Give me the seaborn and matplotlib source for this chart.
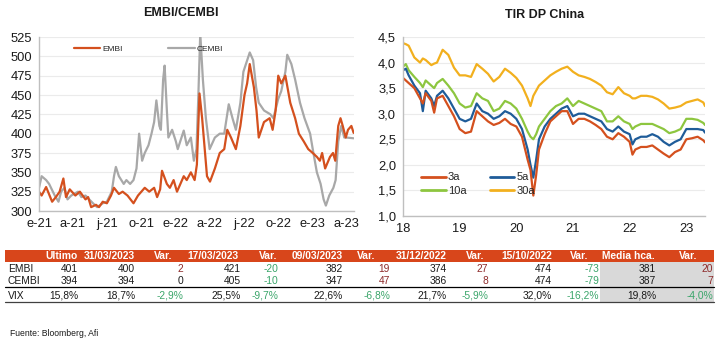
import numpy as np
import pandas as pd
import matplotlib
matplotlib.use("Agg")
import matplotlib.pyplot as plt
from matplotlib.patches import Rectangle
from matplotlib.lines import Line2D
import seaborn as sns

# ---------------- data: EMBI / CEMBI ----------------
embi_dates = ["2021-01-01","2021-01-08","2021-01-20","2021-02-05","2021-02-15","2021-02-25","2021-03-07","2021-03-14",
              "2021-03-24","2021-04-08","2021-04-20","2021-05-05","2021-05-12","2021-05-20","2021-06-02","2021-06-10",
              "2021-06-20","2021-07-01","2021-07-12","2021-07-20","2021-08-02","2021-08-12","2021-08-25","2021-09-10",
              "2021-09-22","2021-10-10","2021-10-22","2021-11-04","2021-11-12","2021-11-20","2021-11-25","2021-12-08",
              "2021-12-16","2021-12-26","2022-01-04","2022-01-22","2022-01-30","2022-02-10","2022-02-20","2022-02-26",
              "2022-03-05","2022-03-12","2022-03-25","2022-04-02","2022-04-15","2022-04-28","2022-05-10","2022-05-18",
              "2022-05-28","2022-06-10","2022-06-22","2022-07-03","2022-07-10","2022-07-17","2022-07-28","2022-08-04",
              "2022-08-10","2022-08-24","2022-09-08","2022-09-16","2022-09-24","2022-10-01","2022-10-09","2022-10-20",
              "2022-11-02","2022-11-15","2022-11-25","2022-12-08","2022-12-20","2023-01-01","2023-01-12","2023-01-20",
              "2023-01-26","2023-02-03","2023-02-16","2023-02-24","2023-03-02","2023-03-10","2023-03-16","2023-03-22",
              "2023-03-30","2023-04-05","2023-04-14","2023-04-20"]
embi_values = [325,320,331,312,318,325,342,318,
               328,320,325,315,318,305,308,305,
               312,310,320,330,322,325,320,310,
               320,330,325,330,318,328,352,335,
               330,340,325,345,340,350,340,360,
               452,420,345,338,355,375,380,405,
               395,380,410,450,465,490,460,430,
               395,415,420,405,430,475,465,475,
               440,420,400,390,380,375,370,365,
               375,355,370,375,365,410,420,410,
               395,405,410,401]

cembi_dates = ["2021-01-01","2021-01-08","2021-01-20","2021-01-28","2021-02-12","2021-02-22","2021-03-01","2021-03-10",
               "2021-03-18","2021-03-28","2021-04-15","2021-04-24","2021-05-05","2021-05-15","2021-05-25","2021-06-05",
               "2021-06-20","2021-07-01","2021-07-14","2021-07-20","2021-07-25","2021-08-02","2021-08-15","2021-08-22",
               "2021-09-01","2021-09-10","2021-09-18","2021-09-25","2021-10-03","2021-10-10","2021-10-20","2021-10-28",
               "2021-11-04","2021-11-10","2021-11-18","2021-11-22","2021-11-28","2021-12-02","2021-12-08","2021-12-12",
               "2021-12-22","2022-01-01","2022-01-06","2022-01-22","2022-01-30","2022-02-10","2022-02-18","2022-02-25",
               "2022-03-02","2022-03-07","2022-03-14","2022-03-22","2022-04-01","2022-04-15","2022-04-28","2022-05-10",
               "2022-05-22","2022-06-01","2022-06-10","2022-06-22","2022-06-30","2022-07-17","2022-07-26","2022-08-03",
               "2022-08-10","2022-08-24","2022-09-10","2022-09-18","2022-10-01","2022-10-09","2022-10-20","2022-10-25",
               "2022-11-05","2022-11-15","2022-11-28","2022-12-10","2022-12-25","2023-01-01","2023-01-12","2023-01-22",
               "2023-01-30","2023-02-05","2023-02-14","2023-02-25","2023-03-03","2023-03-10","2023-03-18","2023-03-26",
               "2023-04-01","2023-04-20"]
cembi_values = [330,345,340,335,320,312,325,330,
                315,320,325,318,320,315,310,305,
                310,312,325,345,357,345,335,340,
                335,340,355,400,365,375,385,400,
                415,443,410,405,470,488,430,395,
                405,390,380,404,385,395,365,380,
                450,530,470,420,380,395,400,400,
                438,420,405,440,480,505,495,460,
                440,430,425,420,445,455,480,502,
                490,470,440,420,400,380,350,335,
                315,307,320,330,340,390,410,395,
                395,394]

left_xtick_dates = ["2021-01-01","2021-04-01","2021-07-01","2021-10-01","2022-01-01","2022-04-01",
                    "2022-07-01","2022-10-01","2023-01-01","2023-04-01"]
left_xtick_labels = ["e-21","a-21","j-21","o-21","e-22","a-22","j-22","o-22","e-23","a-23"]

# ---------------- data: TIR DP China ----------------
china_t = [2018.0,2018.05,2018.1,2018.2,2018.3,2018.35,2018.4,2018.5,2018.55,2018.6,2018.7,2018.8,2018.9,
           2019.0,2019.1,2019.2,2019.3,2019.4,2019.5,2019.6,2019.7,2019.8,2019.9,
           2020.0,2020.1,2020.2,2020.25,2020.3,2020.35,2020.4,2020.5,2020.6,2020.7,2020.8,2020.9,
           2021.0,2021.1,2021.2,2021.3,2021.4,2021.5,2021.6,2021.7,2021.8,2021.9,
           2022.0,2022.05,2022.1,2022.2,2022.3,2022.4,2022.5,2022.6,2022.7,2022.8,2022.9,
           2023.0,2023.1,2023.2,2023.3,2023.33]
y30 = [4.38,4.36,4.33,4.10,4.00,4.08,4.05,3.95,3.98,4.00,4.25,4.15,3.90,
       3.75,3.75,3.72,3.97,3.88,3.78,3.63,3.72,3.88,3.80,
       3.70,3.55,3.30,3.15,3.35,3.45,3.55,3.65,3.75,3.82,3.88,3.92,
       3.82,3.75,3.72,3.68,3.62,3.55,3.42,3.38,3.52,3.40,
       3.35,3.30,3.30,3.35,3.35,3.33,3.28,3.20,3.10,3.12,3.15,
       3.22,3.25,3.28,3.22,3.15]
y10 = [3.92,3.97,3.85,3.72,3.60,3.52,3.65,3.55,3.50,3.60,3.68,3.55,3.40,
       3.20,3.12,3.15,3.40,3.30,3.25,3.05,3.10,3.25,3.20,
       3.10,2.90,2.65,2.55,2.50,2.60,2.75,2.90,3.05,3.15,3.20,3.30,
       3.15,3.25,3.20,3.15,3.10,3.05,2.85,2.85,2.95,2.85,
       2.80,2.70,2.75,2.80,2.80,2.80,2.75,2.70,2.62,2.65,2.70,
       2.90,2.90,2.88,2.82,2.78]
y5 = [3.85,3.88,3.75,3.55,3.40,3.05,3.45,3.30,3.15,3.35,3.45,3.30,3.10,
      2.90,2.85,2.90,3.20,3.05,3.00,2.90,2.95,3.05,3.00,
      2.90,2.70,2.30,2.00,1.75,2.10,2.50,2.75,2.90,3.00,3.10,3.15,
      2.95,3.00,3.00,2.95,2.90,2.85,2.70,2.65,2.75,2.65,
      2.60,2.40,2.50,2.55,2.55,2.60,2.55,2.45,2.38,2.45,2.50,
      2.70,2.70,2.70,2.68,2.63]
y3 = [3.70,3.65,3.60,3.50,3.30,3.20,3.40,3.25,3.02,3.30,3.35,3.15,2.95,
      2.70,2.62,2.65,3.05,2.95,2.85,2.78,2.82,2.90,2.80,
      2.75,2.55,2.10,1.90,1.40,1.80,2.30,2.60,2.85,2.95,3.05,3.05,
      2.80,2.90,2.90,2.85,2.78,2.70,2.55,2.50,2.62,2.55,
      2.45,2.20,2.30,2.35,2.35,2.38,2.30,2.22,2.15,2.25,2.30,
      2.50,2.52,2.55,2.48,2.44]
china_xticks = [2018, 2019, 2020, 2021, 2022, 2023]
china_xtick_labels = ["18", "19", "20", "21", "22", "23"]

# ---------------- data: table ----------------
table_header = ["Último","31/03/2023","Var.","17/03/2023","Var.","09/03/2023","Var.",
                "31/12/2022","Var.","15/10/2022","Var.","Media hca.","Var."]
row_labels = ["EMBI", "CEMBI", "VIX"]
embi_row = [401, 400, 2, 421, -20, 382, 19, 374, 27, 474, -73, 381, 20]
cembi_row = [394, 394, 0, 405, -10, 347, 47, 386, 8, 474, -79, 387, 7]
vix_row = [15.8, 18.7, -2.9, 25.5, -9.7, 22.6, -6.8, 21.7, -5.9, 32.0, -16.2, 19.8, -4.0]
source_text = "Fuente: Bloomberg, Afi"

# ---------------- styling ----------------
ORANGE = "#D4501E"
GREY = "#A8A8A8"
C3, C5, C10, C30 = "#D4501E", "#1F5C99", "#8DC63F", "#F2B01E"
HEADER_BG = "#D8461B"
SHADE = "#D9D9D9"
POS = "#8E2B2B"
NEG = "#3AA56A"
AXC = "#BFBFBF"
TXT = "#1A1A1A"

sns.set_theme(style="white")
plt.rcParams['font.family'] = ['Liberation Sans', 'DejaVu Sans']

W, H = 725, 341
fig = plt.figure(figsize=(W / 100, H / 100), dpi=100)
fig.patch.set_facecolor("white")


def fx(x):
    return x / W


def fy(y):
    return 1 - y / H


def style_axes(ax):
    for s in ["top", "right"]:
        ax.spines[s].set_visible(False)
    for s in ["left", "bottom"]:
        ax.spines[s].set_color(AXC)
        ax.spines[s].set_linewidth(1.0)
    ax.grid(axis="y", color="#EBEBEB", linewidth=0.8)
    ax.grid(axis="x", visible=False)
    ax.set_axisbelow(True)
    ax.tick_params(axis="both", which="major", length=3, width=0.8, color=AXC,
                   labelsize=9.3, labelcolor=TXT, pad=2)
    ax.set_xlabel("")
    ax.set_ylabel("")


# ---- left chart ----
ax1 = fig.add_axes([fx(39), fy(211), fx(354) - fx(39), fy(37) - fy(211)])
df1 = pd.DataFrame({
    "date": pd.to_datetime(cembi_dates + embi_dates),
    "value": cembi_values + embi_values,
    "serie": ["CEMBI"] * len(cembi_dates) + ["EMBI"] * len(embi_dates),
})
sns.lineplot(data=df1, x="date", y="value", hue="serie", hue_order=["CEMBI", "EMBI"],
             palette={"EMBI": ORANGE, "CEMBI": GREY}, linewidth=1.6, ax=ax1, legend=False)
ax1.set_ylim(300, 525)
ax1.set_yticks(np.arange(300, 526, 25))
ax1.set_xlim(pd.Timestamp("2021-01-01"), pd.Timestamp("2023-04-21"))
ax1.set_xticks(pd.to_datetime(left_xtick_dates))
ax1.set_xticklabels(left_xtick_labels)
style_axes(ax1)
h_embi = Line2D([], [], color=ORANGE, linewidth=1.6)
h_cembi = Line2D([], [], color=GREY, linewidth=1.6)
ax1.legend(handles=[h_embi, h_cembi], labels=["EMBI", "CEMBI"], ncol=2, frameon=False,
           fontsize=6, handlelength=3.2, handletextpad=0.2, columnspacing=5.5,
           loc="center left", bbox_to_anchor=(0.11, 0.93), borderaxespad=0, borderpad=0)
fig.text(fx(181), fy(13), "EMBI/CEMBI", ha="center", va="center", fontsize=9,
         fontweight="bold", color=TXT)

# ---- right chart ----
ax2 = fig.add_axes([fx(403), fy(216), fx(705) - fx(403), fy(37) - fy(216)])
n = len(china_t)
df2 = pd.DataFrame({
    "t": china_t * 4,
    "value": y30 + y10 + y5 + y3,
    "serie": ["30a"] * n + ["10a"] * n + ["5a"] * n + ["3a"] * n,
})
sns.lineplot(data=df2, x="t", y="value", hue="serie", hue_order=["30a", "10a", "5a", "3a"],
             palette={"3a": C3, "5a": C5, "10a": C10, "30a": C30}, linewidth=1.6, ax=ax2, legend=False)
ax2.set_ylim(1.0, 4.5)
ax2.set_yticks(np.arange(1.0, 4.51, 0.5))
ax2.set_yticklabels([f"{v:.1f}".replace(".", ",") for v in np.arange(1.0, 4.51, 0.5)])
ax2.set_xlim(2018.0, 2023.33)
ax2.set_xticks(china_xticks)
ax2.set_xticklabels(china_xtick_labels)
style_axes(ax2)
hs = {k: Line2D([], [], color=c, linewidth=2.0) for k, c in
      [("3a", C3), ("5a", C5), ("10a", C10), ("30a", C30)]}
ax2.legend(handles=[hs["3a"], hs["10a"], hs["5a"], hs["30a"]], labels=["3a", "10a", "5a", "30a"],
           ncol=2, frameon=False, fontsize=8, handlelength=2.2, handletextpad=0.2,
           columnspacing=2.1, labelspacing=0.35, loc="lower left",
           bbox_to_anchor=(0.06, 0.11), borderaxespad=0, borderpad=0)
fig.text(fx(545), fy(15), "TIR DP China", ha="center", va="center", fontsize=9,
         fontweight="bold", color=TXT)

# ---- table ----
tbl_left, tbl_right = 5, 714
hdr_top, hdr_bot = 250, 262
row_y = [269, 281, 296]
sep_y, bot_y = 287, 302
shade_left = 600
value_right = [78, 135, 183, 241, 278, 343, 390, 447, 488, 552, 599, 656, 713]
header_right = [78, 135, 172, 239, 277, 343, 375, 447, 484, 552, 588, 655, 697]

fig.add_artist(Rectangle((fx(tbl_left), fy(hdr_bot)), fx(tbl_right) - fx(tbl_left),
                         fy(hdr_top) - fy(hdr_bot), transform=fig.transFigure,
                         facecolor=HEADER_BG, edgecolor="none"))
fig.add_artist(Rectangle((fx(shade_left), fy(bot_y)), fx(tbl_right) - fx(shade_left),
                         fy(hdr_bot) - fy(bot_y), transform=fig.transFigure,
                         facecolor=SHADE, edgecolor="none"))
fig.add_artist(Line2D([fx(tbl_left), fx(tbl_right)], [fy(sep_y), fy(sep_y)],
                      transform=fig.transFigure, color="#000000", linewidth=0.9))
fig.add_artist(Line2D([fx(tbl_left), fx(tbl_right)], [fy(bot_y), fy(bot_y)],
                      transform=fig.transFigure, color="#404040", linewidth=0.9))

for lab, xr in zip(table_header, header_right):
    fig.text(fx(xr), fy((hdr_top + hdr_bot) / 2), lab, ha="right", va="center",
             fontsize=7.4, fontweight="bold", color="white")


def fmt(v, pct):
    if pct:
        return f"{v:.1f}".replace(".", ",") + "%"
    return f"{int(v)}"


for ri, (lab, row, pct) in enumerate(zip(row_labels, [embi_row, cembi_row, vix_row], [False, False, True])):
    yy = fy(row_y[ri])
    fig.text(fx(8), yy, lab, ha="left", va="center", fontsize=7.4, color=TXT)
    for ci, v in enumerate(row):
        col = TXT
        if table_header[ci] == "Var.":
            col = POS if v > 0 else (NEG if v < 0 else TXT)
        fig.text(fx(value_right[ci]), yy, fmt(v, pct), ha="right", va="center",
                 fontsize=7.4, color=col)

fig.text(fx(10), fy(333), source_text, ha="left", va="center", fontsize=6.2, color=TXT)

fig.savefig("out.png", dpi=100, facecolor="white")
